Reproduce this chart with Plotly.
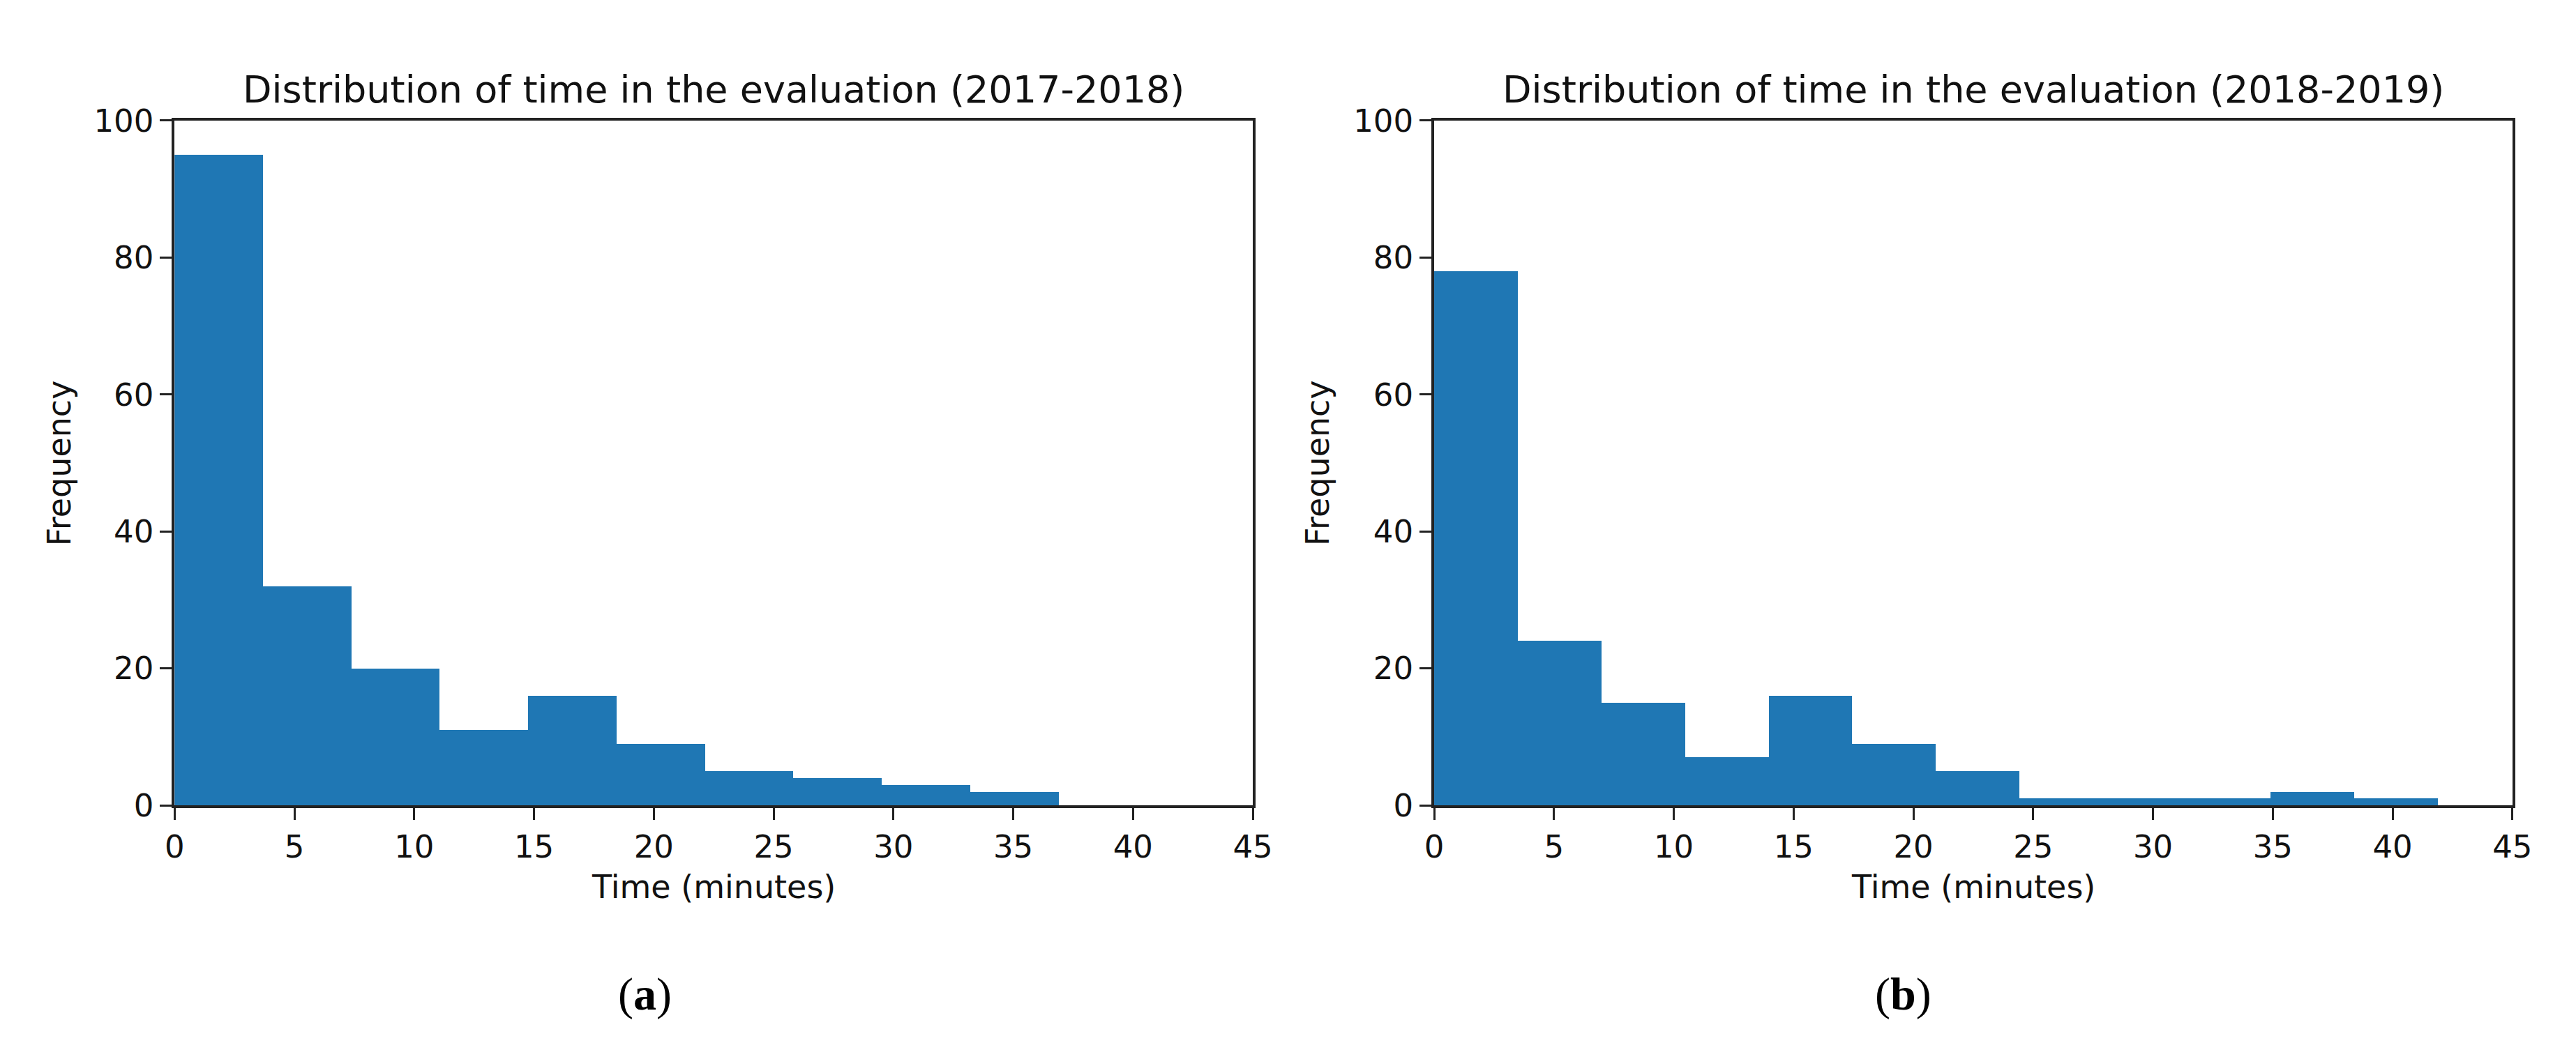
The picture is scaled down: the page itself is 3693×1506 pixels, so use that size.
import plotly.graph_objects as go

# ---------------- data ----------------
edges_a = [0, 3.69, 7.38, 11.07, 14.76, 18.45, 22.14, 25.83, 29.52, 33.21, 36.9]
counts_a = [95, 32, 20, 11, 16, 9, 5, 4, 3, 2]

edges_b = [0, 3.49, 6.98, 10.47, 13.96, 17.45, 20.94, 24.43, 27.92, 31.41, 34.9, 38.39, 41.88]
counts_b = [78, 24, 15, 7, 16, 9, 5, 1, 1, 1, 2, 1]

titles = ["Distribution of time in the evaluation (2017-2018)",
          "Distribution of time in the evaluation (2018-2019)"]
captions = ["(<b>a</b>)", "(<b>b</b>)"]
x_label = "Time (minutes)"
y_label = "Frequency"
x_ticks = [0, 5, 10, 15, 20, 25, 30, 35, 40, 45]
y_ticks = [0, 20, 40, 60, 80, 100]

# ---------------- layout geometry ----------------
W, H = 3693, 1506
dom_x = [[231 / W, 1795 / W], [2058 / W, 3622 / W]]
dom_y = [1 - 1162 / H, 1 - 144 / H]
BLUE = "#1f77b4"
TICK_FONT = dict(family="DejaVu Sans", size=45, color="#111111")

fig = go.Figure()

for i, (edges, counts) in enumerate([(edges_a, counts_a), (edges_b, counts_b)]):
    left = edges[:-1]
    widths = [edges[k + 1] - edges[k] for k in range(len(counts))]
    fig.add_trace(go.Bar(
        x=left, y=counts, width=widths, offset=0,
        marker=dict(color=BLUE, line=dict(width=0)),
        xaxis="x" if i == 0 else "x2", yaxis="y" if i == 0 else "y2",
        showlegend=False, hoverinfo="x+y",
    ))

axis_common = dict(
    showline=True, mirror=True, linecolor="#222222", linewidth=4,
    ticks="outside", ticklen=17, tickwidth=3, tickcolor="#222222",
    showgrid=False, zeroline=False, tickfont=TICK_FONT,
)

fig.update_layout(
    width=W, height=H,
    margin=dict(l=0, r=0, t=0, b=0),
    paper_bgcolor="white", plot_bgcolor="white",
    bargap=0,
    xaxis=dict(domain=dom_x[0], range=[0, 45], tickvals=x_ticks, anchor="y", **axis_common),
    yaxis=dict(domain=dom_y, range=[0, 100], tickvals=y_ticks, anchor="x", **axis_common),
    xaxis2=dict(domain=dom_x[1], range=[0, 45], tickvals=x_ticks, anchor="y2", **axis_common),
    yaxis2=dict(domain=dom_y, range=[0, 100], tickvals=y_ticks, anchor="x2", **axis_common),
)

annotations = []
for i in range(2):
    cx = (dom_x[i][0] + dom_x[i][1]) / 2
    # title
    annotations.append(dict(
        text=titles[i], x=cx, y=1 - 98 / H, xref="paper", yref="paper",
        xanchor="center", yanchor="middle", showarrow=False,
        font=dict(family="DejaVu Sans", size=54, color="#111111")))
    # x label
    annotations.append(dict(
        text=x_label, x=cx, y=1 - 1283 / H, xref="paper", yref="paper",
        xanchor="center", yanchor="middle", showarrow=False,
        font=dict(family="DejaVu Sans", size=46, color="#111111")))
    # y label
    yl_x = [64, 1889][i]
    annotations.append(dict(
        text=y_label, x=yl_x / W, y=(dom_y[0] + dom_y[1]) / 2, xref="paper", yref="paper",
        xanchor="center", yanchor="middle", showarrow=False, textangle=-90,
        font=dict(family="DejaVu Sans", size=46, color="#111111")))
    # caption
    cap_x = [913, 2738][i]
    annotations.append(dict(
        text=captions[i], x=cap_x / W, y=1 - 1443 / H, xref="paper", yref="paper",
        xanchor="center", yanchor="middle", showarrow=False,
        font=dict(family="Liberation Serif", size=66, color="black")))

fig.update_layout(annotations=annotations)

fig.write_html("out.html")
